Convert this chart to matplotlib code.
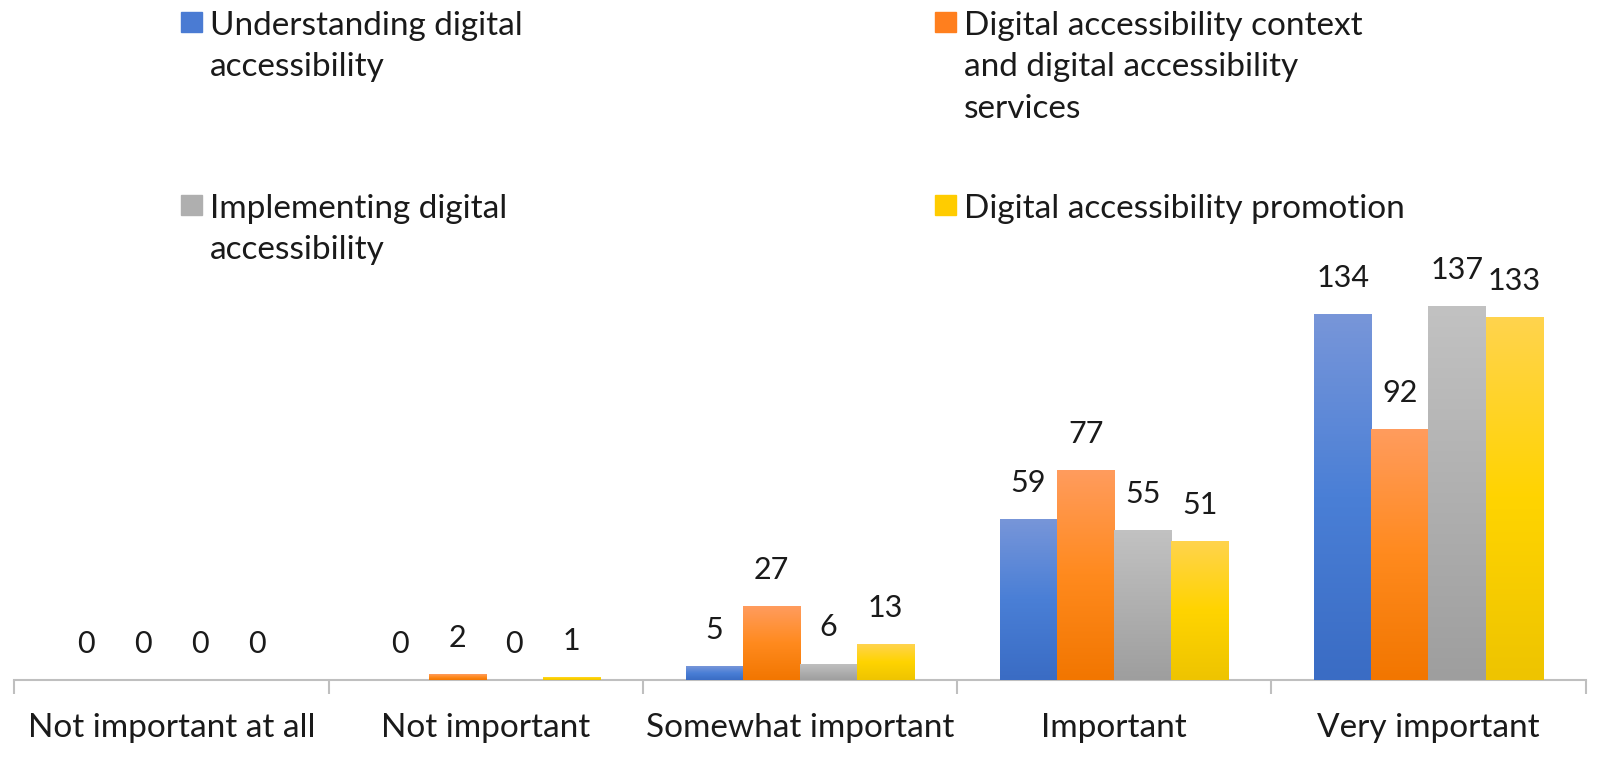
import numpy as np
import matplotlib
matplotlib.use("Agg")
import matplotlib.pyplot as plt
from matplotlib.colors import LinearSegmentedColormap
from matplotlib.patches import Rectangle

plt.rcParams['font.family'] = ['Lato', 'DejaVu Sans']

# data
categories = ["Not important at all", "Not important", "Somewhat important",
              "Important", "Very important"]
series_names = ["Understanding digital\naccessibility",
                "Digital accessibility context\nand digital accessibility\nservices",
                "Implementing digital\naccessibility",
                "Digital accessibility promotion"]
understanding = [0, 0, 5, 59, 134]
context = [0, 2, 27, 77, 92]
implementing = [0, 0, 6, 55, 137]
promotion = [0, 1, 13, 51, 133]
values = [understanding, context, implementing, promotion]

# (top, mid, bottom) gradient colours per series, plus solid legend colour
grads = [("#7896D9", "#4A7FD6", "#3A6CC4"),
         ("#FF9C5E", "#FF8A1E", "#F27600"),
         ("#C2C2C2", "#B0B0B0", "#9E9E9E"),
         ("#FFD34E", "#FFD400", "#EEC400")]
solid = ["#4A7BD3", "#FF7F1E", "#AFAFAF", "#FFCC00"]

W, H = 1600, 764
fig = plt.figure(figsize=(W / 100, H / 100), dpi=100)
ax = fig.add_axes([0.009, 0.11, 0.982, 0.536])

n = len(values)
width = 1 / (n + 1.5)
x = np.arange(len(categories))

for i, vals in enumerate(values):
    pos = x + (i - (n - 1) / 2) * width
    bars = ax.bar(pos, vals, width, color=solid[i], linewidth=0, zorder=2)
    cmap = LinearSegmentedColormap.from_list("g%d" % i, grads[i][::-1])
    grad = np.linspace(0, 1, 256).reshape(-1, 1)
    for b, v in zip(bars, vals):
        if v > 0:
            im = ax.imshow(grad, cmap=cmap, origin='lower', aspect='auto',
                           extent=[b.get_x(), b.get_x() + b.get_width(), 0, max(v, 1.2)],
                           zorder=3)
            im.set_clip_path(b)
        ax.annotate(str(v), (b.get_x() + b.get_width() / 2, v),
                    xytext=(0, 26), textcoords='offset points',
                    ha='center', va='center', fontsize=22, color='#1a1a1a', zorder=4)

ax.set_xlim(-0.5, len(categories) - 0.5)
ax.set_ylim(0, 150)
for s in ['top', 'right', 'left']:
    ax.spines[s].set_visible(False)
ax.spines['bottom'].set_color('#BFBFBF')
ax.spines['bottom'].set_linewidth(1.5)
ax.set_yticks([])
ax.set_xticks(x)
ax.set_xticklabels(categories, fontsize=24, color='#1a1a1a')
ax.tick_params(axis='x', which='major', length=0, pad=24)
ax.set_xticks(np.arange(-0.5, len(categories)), minor=True)
ax.tick_params(axis='x', which='minor', length=10, width=1.5, color='#BFBFBF')

# legend drawn by hand (pixel positions from top-left): marker box + wrapped text
leg_px = [(181, 12), (935, 12), (181, 195), (935, 195)]
for i, (px, py) in enumerate(leg_px):
    fig.patches.append(Rectangle((px / W, 1 - (py + 20) / H), 21 / W, 20 / H,
                                 color=solid[i], transform=fig.transFigure, figure=fig))
    fig.text((px + 29) / W, 1 - (py - 1) / H, series_names[i], fontsize=24,
             color='#1a1a1a', ha='left', va='top', linespacing=1.47)

fig.savefig("out.png", dpi=100)
